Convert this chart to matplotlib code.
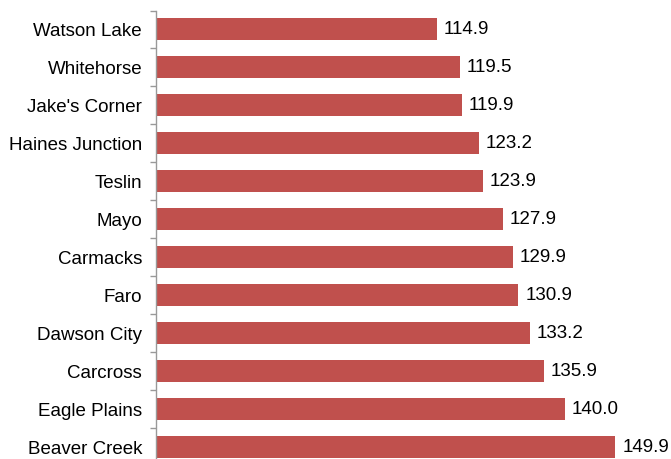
import matplotlib.pyplot as plt
import numpy as np

plt.rcParams['font.family'] = ['Liberation Sans', 'DejaVu Sans']

communities = ['Watson Lake', 'Whitehorse', "Jake's Corner", 'Haines Junction',
               'Teslin', 'Mayo', 'Carmacks', 'Faro', 'Dawson City', 'Carcross',
               'Eagle Plains', 'Beaver Creek']
prices = [114.9, 119.5, 119.9, 123.2, 123.9, 127.9, 129.9, 130.9, 133.2,
          135.9, 140.0, 149.9]

bar_color = '#C0504D'

fig = plt.figure(figsize=(6.71, 4.59), dpi=100)
ax = fig.add_axes([0.2325, -0.0153, 0.7615, 0.9924])

y = np.arange(len(communities))
bars = ax.barh(y, prices, height=0.58, color=bar_color, left=0)
ax.bar_label(bars, labels=['{:.1f}'.format(p) for p in prices],
             padding=5, fontsize=13.5, color='#000')

ax.set_xlim(60, 160)
ax.set_ylim(len(communities) - 0.5, -0.5)

ax.set_yticks(y)
ax.set_yticklabels(communities, fontsize=13.5)
ax.tick_params(axis='y', which='major', length=0, pad=10)
ax.set_yticks(np.arange(-0.5, len(communities)), minor=True)
ax.tick_params(axis='y', which='minor', length=4, width=1, color='#999999',
               direction='out')
ax.set_xticks([])

for s in ['top', 'right', 'bottom']:
    ax.spines[s].set_visible(False)
ax.spines['left'].set_color('#999999')
ax.spines['left'].set_linewidth(1)

fig.savefig('out.png', dpi=100)
